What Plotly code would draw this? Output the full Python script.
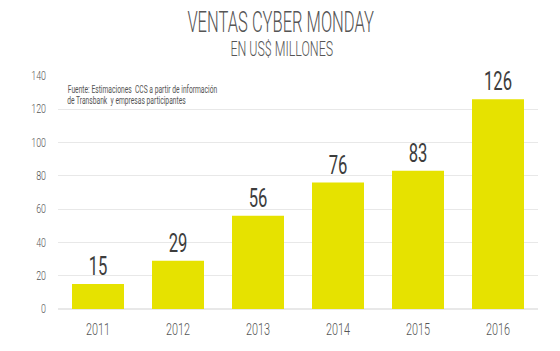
import plotly.graph_objects as go

years = ["2011", "2012", "2013", "2014", "2015", "2016"]
ventas = [15, 29, 56, 76, 83, 126]
y_ticks = [0, 20, 40, 60, 80, 100, 120, 140]

FONT = "Roboto"
TXT = "#555555"

fig = go.Figure()
fig.add_trace(go.Bar(
    x=years, y=ventas,
    marker=dict(color="#E6E200", line=dict(width=0)),
    text=[str(v) for v in ventas],
    textposition="outside",
    textfont=dict(family=FONT, size=26, color="#3d3d3d"),
    cliponaxis=False,
    hoverinfo="skip",
))

fig.update_layout(
    width=560, height=351,
    margin=dict(l=58, r=22, t=76, b=42),
    paper_bgcolor="white", plot_bgcolor="white",
    bargap=0.35,
    showlegend=False,
    font=dict(family=FONT, color=TXT),
    xaxis=dict(showgrid=False, showline=False, ticks="", ticklabelstandoff=9,
               tickfont=dict(family=FONT, size=16, color=TXT, weight=300)),
    yaxis=dict(range=[0, 140], tickvals=y_ticks, showgrid=True,
               gridcolor="#E8E8E8", gridwidth=1, zeroline=True,
               zerolinecolor="#E8E8E8", ticks="", ticklabelstandoff=11,
               tickfont=dict(family=FONT, size=12, color=TXT, weight=300)),
)

PX = 480.0   # plot width in px
PY = 233.0   # plot height in px

def px_x(x):
    return (x - 58) / PX

def px_y(y):
    return (309 - y) / PY

fig.add_annotation(text="VENTAS CYBER MONDAY", xref="paper", yref="paper",
                   x=px_x(280), y=px_y(22), yanchor="middle", showarrow=False,
                   font=dict(family=FONT, size=29, color=TXT, weight=300))
fig.add_annotation(text="EN US$ MILLONES", xref="paper", yref="paper",
                   x=px_x(282), y=px_y(49), yanchor="middle", showarrow=False,
                   font=dict(family=FONT, size=20, color=TXT, weight=300))
fig.add_annotation(text="Fuente: Estimaciones  CCS a partir de información",
                   xref="paper", yref="paper", x=px_x(142.5), y=px_y(89),
                   xanchor="center", yanchor="middle", showarrow=False,
                   font=dict(family=FONT, size=10, color=TXT))
fig.add_annotation(text="de Transbank  y empresas participantes",
                   xref="paper", yref="paper", x=px_x(126), y=px_y(100),
                   xanchor="center", yanchor="middle", showarrow=False,
                   font=dict(family=FONT, size=10, color=TXT))

# horizontally condense text (reference uses a condensed typeface)
post = """
var gd = document.getElementById('{plot_id}');
var ratios = {'29': 0.57, '26': 0.64, '20': 0.62, '16': 0.68, '12': 0.74, '10': 0.67};
function squeeze() {
  gd.querySelectorAll('text').forEach(function(t) {
    if (t.getAttribute('data-sq')) return;
    if (t.querySelector('tspan')) return;
    var fs = parseFloat(t.style.fontSize || window.getComputedStyle(t).fontSize);
    var r = ratios[String(Math.round(fs))];
    if (!r) return;
    var w = t.getComputedTextLength();
    if (!w) return;
    t.setAttribute('textLength', (w * r).toFixed(2));
    t.setAttribute('lengthAdjust', 'spacingAndGlyphs');
    t.setAttribute('data-sq', '1');
  });
}
squeeze();
gd.on('plotly_afterplot', function() { gd.querySelectorAll('text[data-sq]').forEach(function(t){ t.removeAttribute('data-sq'); t.removeAttribute('textLength'); }); squeeze(); });
setTimeout(squeeze, 50);
"""

fig.write_html("out.html", post_script=post)
